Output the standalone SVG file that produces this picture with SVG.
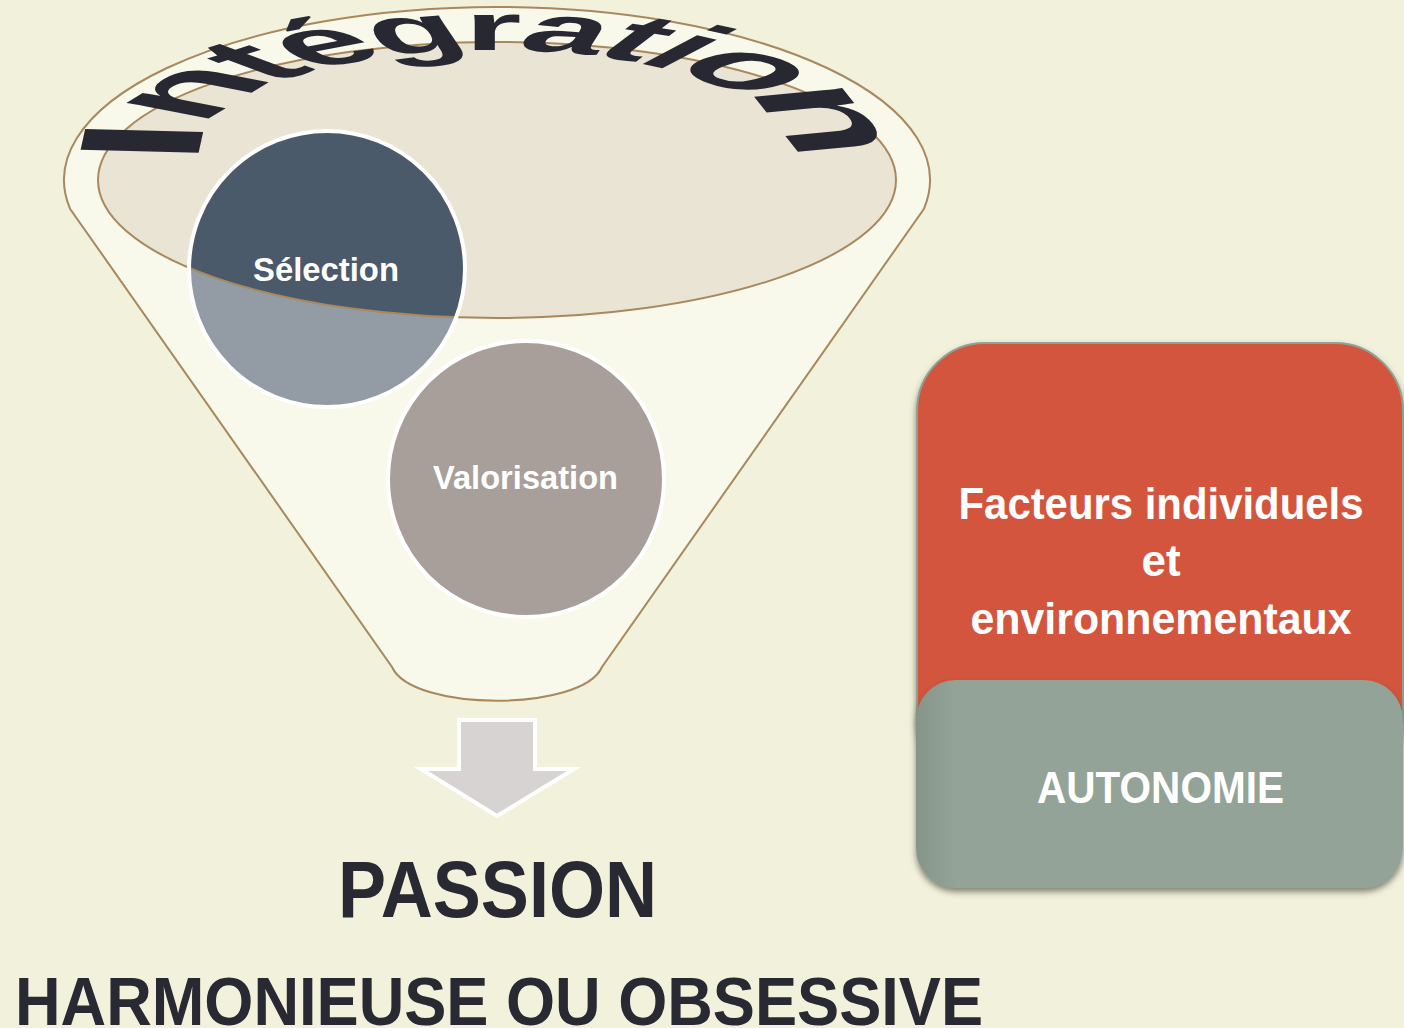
<svg xmlns="http://www.w3.org/2000/svg" width="1404" height="1028" viewBox="0 0 1404 1028">
<style>
.sans{font-family:'Liberation Sans',Arial,sans-serif;font-weight:bold}
.wt{fill:#ffffff}
.dk{fill:#282932}
.brown{fill:none;stroke:#A8885C;stroke-width:2}
.arc{font-family:'Liberation Sans',Arial,sans-serif;font-weight:bold;font-size:100px;fill:#272831;text-anchor:middle}
</style>
<defs>
<clipPath id="innerClip"><ellipse cx="497" cy="180" rx="399" ry="138"/></clipPath>
<filter id="sh" x="-5%" y="-5%" width="112%" height="125%">
<feDropShadow dx="0" dy="4" stdDeviation="3" flood-color="#4a4a3a" flood-opacity="0.65"/>
</filter>
<linearGradient id="grn" x1="0" y1="0" x2="1" y2="0">
<stop offset="0" stop-color="#85958A"/>
<stop offset="0.08" stop-color="#93A398"/>
<stop offset="1" stop-color="#93A398"/>
</linearGradient>
</defs>
<rect x="0" y="0" width="1404" height="1028" fill="#F2F1DC"/>

<g id="funnel">
<path d="M 70,208.7 A 433,173 0 1 1 924,208.7 L 602,667 C 582,712 412,712 392,667 Z" fill="#F8F8EB" stroke="#A8885C" stroke-width="2"/>
<ellipse cx="497" cy="180" rx="399" ry="138" fill="#EAE4D5"/>
</g>

<g id="node-selection">
<circle cx="327" cy="269" r="138" fill="#939BA5"/>
<circle cx="327" cy="269" r="138" fill="#4B5A6B" clip-path="url(#innerClip)"/>
<ellipse cx="497" cy="180" rx="399" ry="138" class="brown"/>
<circle cx="327" cy="269" r="138" fill="none" stroke="#ffffff" stroke-width="4"/>
<text x="326" y="281" class="sans wt" font-size="33" text-anchor="middle" textLength="146" lengthAdjust="spacingAndGlyphs">Sélection</text>
</g>

<g id="node-valorisation">
<circle cx="526" cy="479" r="138" fill="#A89F9A" stroke="#ffffff" stroke-width="4"/>
<text x="525.5" y="489" class="sans wt" font-size="33" text-anchor="middle" textLength="185" lengthAdjust="spacingAndGlyphs">Valorisation</text>
</g>

<g id="node-integration">
<text class="arc" transform="matrix(0.3154 -1.4309 1.7153 0.0440 200.8 142.5)">I</text>
<text class="arc" transform="matrix(1.2558 -0.7546 1.5464 0.2999 238.2 100.6)">n</text>
<text class="arc" transform="matrix(1.3976 -0.4386 1.2534 0.4652 294.7 76.4)">t</text>
<text class="arc" transform="matrix(1.4398 -0.2713 0.9216 0.5698 351.4 62.45)">é</text>
<text class="arc" transform="matrix(1.4603 -0.1151 0.4392 0.6491 427.1 52.56)">g</text>
<text class="arc" transform="matrix(1.465 0 0 0.6704 493 50)">r</text>
<text class="arc" transform="matrix(1.4609 0.1078 -0.4127 0.6515 554.9 52.26)">a</text>
<text class="arc" transform="matrix(1.4482 0.2221 -0.7882 0.5986 613.1 58.79)">t</text>
<text class="arc" transform="matrix(1.4301 0.3170 -1.0302 0.5414 652.6 66.13)">i</text>
<text class="arc" transform="matrix(1.3736 0.5098 -1.3481 0.4231 708.7 82.31)">o</text>
<text class="arc" transform="matrix(0.9127 1.1465 -1.6745 0.1553 775.7 123.8)">n</text>
</g>

<g id="connectors">
<polygon points="459,720 535,720 535,769 574,769 497,816 421,769 459,769" fill="#D6D3D2" stroke="#ffffff" stroke-width="4"/>
</g>

<g id="node-passion">
<text x="497.5" y="917" class="sans dk" font-size="80" text-anchor="middle" textLength="319" lengthAdjust="spacingAndGlyphs">PASSION</text>
<text x="499" y="1025" class="sans dk" font-size="68" text-anchor="middle" textLength="968" lengthAdjust="spacingAndGlyphs">HARMONIEUSE OU OBSESSIVE</text>
</g>

<g id="node-facteurs">
<rect x="917" y="343" width="486" height="440" rx="68" ry="68" fill="#D3553D" stroke="#8FA094" stroke-width="2" filter="url(#sh)"/>
<text x="1161" y="519" class="sans wt" font-size="44" text-anchor="middle" textLength="405" lengthAdjust="spacingAndGlyphs">Facteurs individuels</text>
<text x="1161" y="576" class="sans wt" font-size="44" text-anchor="middle">et</text>
<text x="1161" y="634" class="sans wt" font-size="44" text-anchor="middle" textLength="381" lengthAdjust="spacingAndGlyphs">environnementaux</text>
</g>

<g id="node-autonomie">
<rect x="916" y="680" width="487" height="208" rx="40" ry="40" fill="url(#grn)" filter="url(#sh)"/>
<text x="1160.5" y="803" class="sans wt" font-size="45" text-anchor="middle" textLength="247" lengthAdjust="spacingAndGlyphs">AUTONOMIE</text>
</g>
</svg>
